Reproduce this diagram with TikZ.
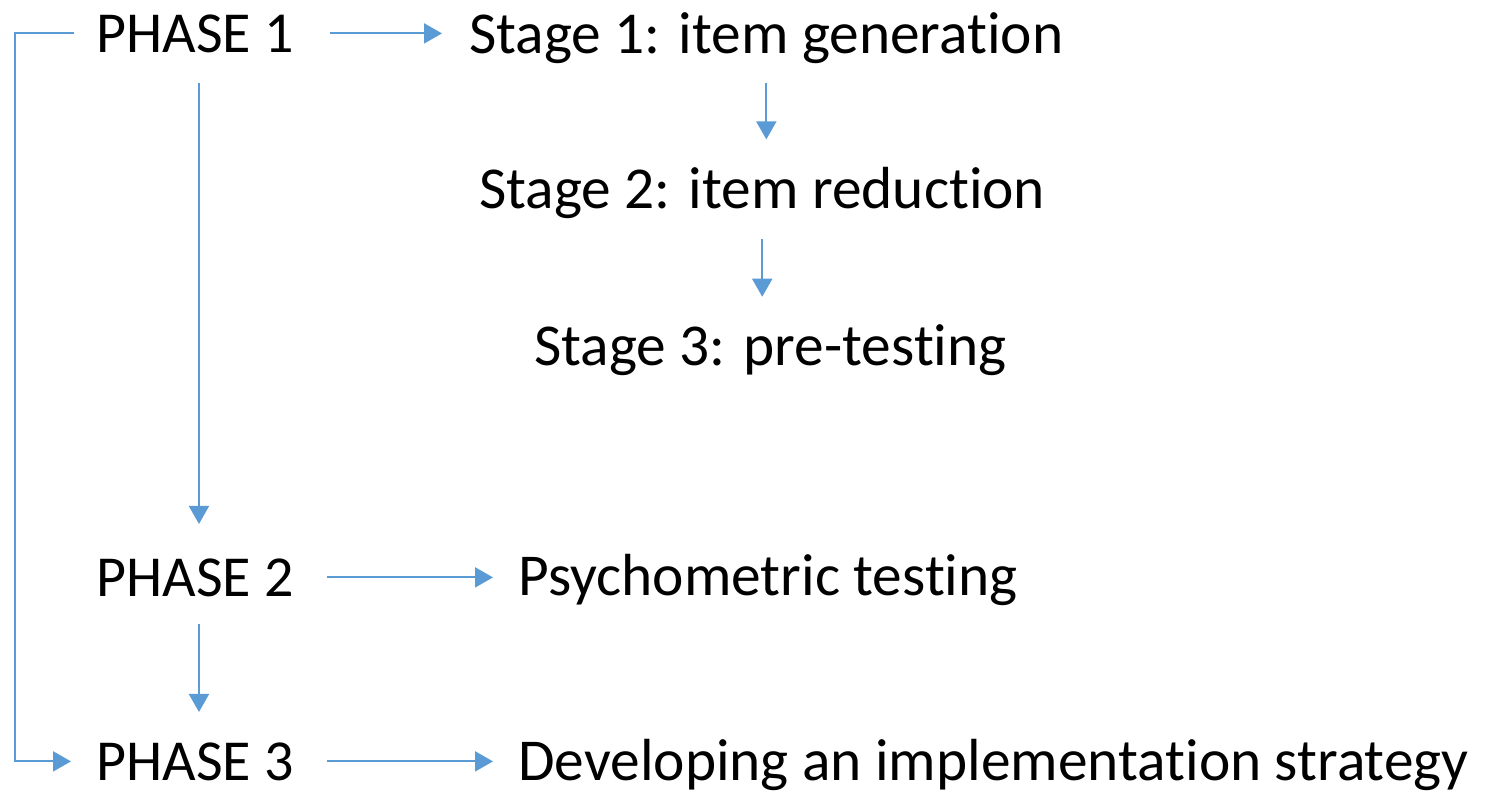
\documentclass[tikz,border=0pt]{standalone}
\usepackage{fontspec}
\setmainfont{Carlito}[Ligatures=NoCommon]
\usepackage{tikz}
\usetikzlibrary{arrows.meta}
\usepackage{xcolor}
\definecolor{ColArrow}{RGB}{91,155,213}
\tikzstyle{PhaseText}=[anchor=base west,inner sep=0pt,font=\fontsize{29}{34}\selectfont]
\tikzstyle{StageText}=[anchor=base west,inner sep=0pt,font=\fontsize{29.7}{34}\selectfont]
\tikzstyle{EdgeStep}=[ColArrow,line width=1pt,-{Triangle[length=9pt,width=10pt]}]

\begin{document}
\begin{tikzpicture}[x=0.5pt,y=-0.5pt]
        \useasboundingbox(0,0)rectangle(1485,794);
        \node[PhaseText](p1)at(96,52){PHASE 1};
        \node[PhaseText](p2)at(96,596){PHASE 2};
        \node[PhaseText](p3)at(96,780){PHASE 3};
        \node[StageText](s1)at(469,53){Stage 1: item generation};
        \node[StageText](s2)at(479,208){Stage 2: item reduction};
        \node[StageText](s3)at(534,365){Stage 3: pre-testing};
        \node[StageText](psy)at(518,595){Psychometric testing};
        \node[StageText](dev)at(518,780){Developing an implementation strategy};
        \coordinate(bend)at(15,0);
        \draw[EdgeStep,shorten <=18pt,shorten >=13.5pt](p1.east)--(p1.east-|s1.west);
        \draw[EdgeStep,shorten <=9.5pt,shorten >=13.5pt](s1.south)--(s1.south|-s2.north);
        \draw[EdgeStep,shorten <=10pt,shorten >=13.5pt](s2.south)--(s2.south|-s3.north);
        \draw[EdgeStep,shorten <=15pt,shorten >=17pt]([xshift=2pt]p1.south)--([xshift=2pt]p2.north);
        \draw[EdgeStep,shorten <=13.5pt,shorten >=15pt]([xshift=2pt]p2.south)--([xshift=2pt]p3.north);
        \draw[EdgeStep,shorten <=16.5pt,shorten >=12.5pt](p2.east)--(p2.east-|psy.west);
        \draw[EdgeStep,shorten <=16.5pt,shorten >=12.5pt](p3.east)--(p3.east-|dev.west);
        \draw[EdgeStep,shorten <=11pt,shorten >=12.5pt](p1.west)--(p1.west-|bend)|-(p3.west);
    \end{tikzpicture}
\end{document}
